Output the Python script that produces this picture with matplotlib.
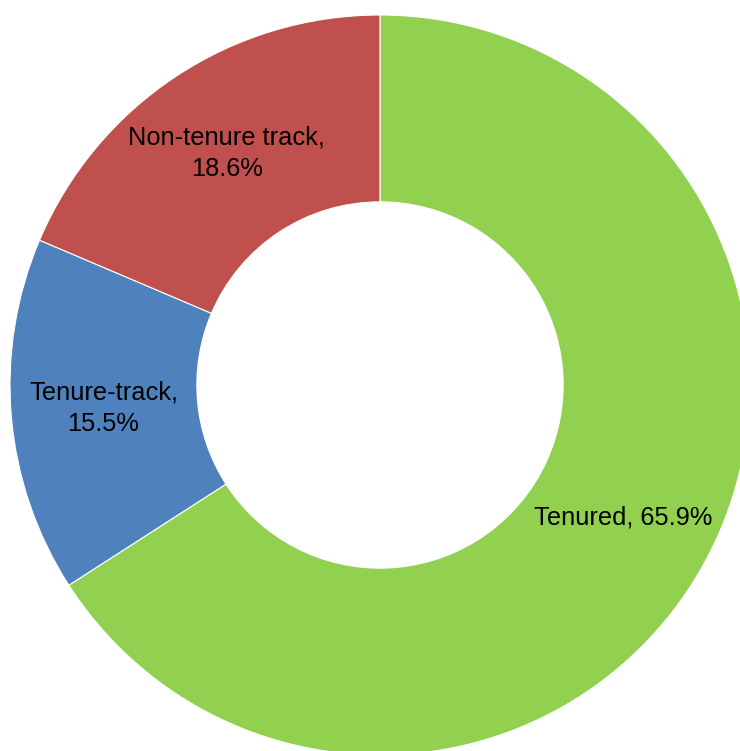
import matplotlib.pyplot as plt
import numpy as np

plt.rcParams["font.family"] = ["Liberation Sans", "DejaVu Sans"]

categories = ["Tenured", "Tenure-track", "Non-tenure track"]
shares = [65.9, 15.5, 18.6]
colors = ["#92D050", "#4F81BD", "#C0504D"]
label_texts = ["Tenured, 65.9%", "Tenure-track,\n15.5%", "Non-tenure track,\n18.6%"]

fig = plt.figure(figsize=(7.40, 7.51), dpi=100)
ax = fig.add_axes([10 / 740, -4 / 751, 740 / 740, 740 / 751])

wedges, _ = ax.pie(
    shares,
    colors=colors,
    startangle=90,
    counterclock=False,
    radius=1.0,
    wedgeprops=dict(width=0.505, edgecolor="white", linewidth=0.8),
)

# labels sit in the middle of the ring, centred on each wedge
for w, txt in zip(wedges, label_texts):
    mid = np.deg2rad((w.theta1 + w.theta2) / 2)
    r = 0.75
    ax.text(r * np.cos(mid), r * np.sin(mid), txt, ha="center", va="center",
            fontsize=18.3, color="black", linespacing=1.38)

ax.set_xlim(-1, 1)
ax.set_ylim(-1, 1)
ax.set_aspect("equal")
ax.axis("off")

fig.savefig("out.png", dpi=100)
